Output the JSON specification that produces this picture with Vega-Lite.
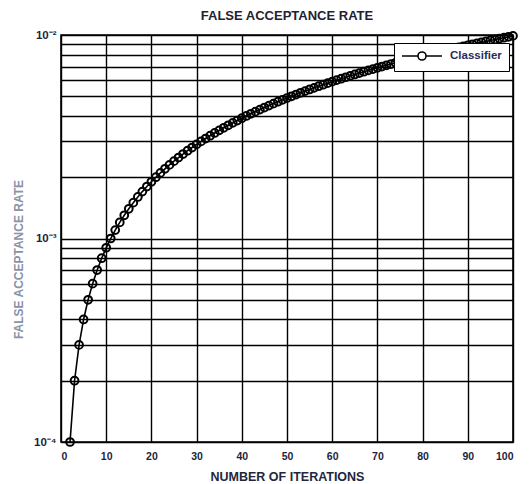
{
  "$schema": "https://vega.github.io/schema/vega-lite/v6.json",
  "width": 452,
  "height": 407,
  "autosize": {"type": "none"},
  "padding": {"left": 61, "top": 35, "right": 16, "bottom": 42},
  "background": "white",
  "title": {
    "text": "FALSE ACCEPTANCE RATE",
    "font": "Liberation Sans",
    "fontSize": 13,
    "fontWeight": "bold",
    "color": "#1f2233",
    "offset": 5
  },
  "data": {
    "values": [
      {"x": 2, "y": 0.0001}, {"x": 3, "y": 0.0002}, {"x": 4, "y": 0.0003}, {"x": 5, "y": 0.0004},
      {"x": 6, "y": 0.0005}, {"x": 7, "y": 0.0006}, {"x": 8, "y": 0.0007}, {"x": 9, "y": 0.0008},
      {"x": 10, "y": 0.0009}, {"x": 11, "y": 0.0010}, {"x": 12, "y": 0.0011}, {"x": 13, "y": 0.0012},
      {"x": 14, "y": 0.0013}, {"x": 15, "y": 0.0014}, {"x": 16, "y": 0.0015}, {"x": 17, "y": 0.0016},
      {"x": 18, "y": 0.0017}, {"x": 19, "y": 0.0018}, {"x": 20, "y": 0.0019}, {"x": 21, "y": 0.0020},
      {"x": 22, "y": 0.0021}, {"x": 23, "y": 0.0022}, {"x": 24, "y": 0.0023}, {"x": 25, "y": 0.0024},
      {"x": 26, "y": 0.0025}, {"x": 27, "y": 0.0026}, {"x": 28, "y": 0.0027}, {"x": 29, "y": 0.0028},
      {"x": 30, "y": 0.0029}, {"x": 31, "y": 0.0030}, {"x": 32, "y": 0.0031}, {"x": 33, "y": 0.0032},
      {"x": 34, "y": 0.0033}, {"x": 35, "y": 0.0034}, {"x": 36, "y": 0.0035}, {"x": 37, "y": 0.0036},
      {"x": 38, "y": 0.0037}, {"x": 39, "y": 0.0038}, {"x": 40, "y": 0.0039}, {"x": 41, "y": 0.0040},
      {"x": 42, "y": 0.0041}, {"x": 43, "y": 0.0042}, {"x": 44, "y": 0.0043}, {"x": 45, "y": 0.0044},
      {"x": 46, "y": 0.0045}, {"x": 47, "y": 0.0046}, {"x": 48, "y": 0.0047}, {"x": 49, "y": 0.0048},
      {"x": 50, "y": 0.0049}, {"x": 51, "y": 0.0050}, {"x": 52, "y": 0.0051}, {"x": 53, "y": 0.0052},
      {"x": 54, "y": 0.0053}, {"x": 55, "y": 0.0054}, {"x": 56, "y": 0.0055}, {"x": 57, "y": 0.0056},
      {"x": 58, "y": 0.0057}, {"x": 59, "y": 0.0058}, {"x": 60, "y": 0.0059}, {"x": 61, "y": 0.0060},
      {"x": 62, "y": 0.0061}, {"x": 63, "y": 0.0062}, {"x": 64, "y": 0.0063}, {"x": 65, "y": 0.0064},
      {"x": 66, "y": 0.0065}, {"x": 67, "y": 0.0066}, {"x": 68, "y": 0.0067}, {"x": 69, "y": 0.0068},
      {"x": 70, "y": 0.0069}, {"x": 71, "y": 0.0070}, {"x": 72, "y": 0.0071}, {"x": 73, "y": 0.0072},
      {"x": 74, "y": 0.0073}, {"x": 75, "y": 0.0074}, {"x": 76, "y": 0.0075}, {"x": 77, "y": 0.0076},
      {"x": 78, "y": 0.0077}, {"x": 79, "y": 0.0078}, {"x": 80, "y": 0.0079}, {"x": 81, "y": 0.0080},
      {"x": 82, "y": 0.0081}, {"x": 83, "y": 0.0082}, {"x": 84, "y": 0.0083}, {"x": 85, "y": 0.0084},
      {"x": 86, "y": 0.0085}, {"x": 87, "y": 0.0086}, {"x": 88, "y": 0.0087}, {"x": 89, "y": 0.0088},
      {"x": 90, "y": 0.0089}, {"x": 91, "y": 0.0090}, {"x": 92, "y": 0.0091}, {"x": 93, "y": 0.0092},
      {"x": 94, "y": 0.0093}, {"x": 95, "y": 0.0094}, {"x": 96, "y": 0.0095}, {"x": 97, "y": 0.0096},
      {"x": 98, "y": 0.0097}, {"x": 99, "y": 0.0098}, {"x": 100, "y": 0.0099}
    ]
  },
  "encoding": {
    "x": {
      "field": "x",
      "type": "quantitative",
      "scale": {"domain": [0, 100], "nice": false},
      "axis": {
        "title": "NUMBER OF ITERATIONS",
        "values": [0, 10, 20, 30, 40, 50, 60, 70, 80, 90, 100],
        "labelPadding": 9,
        "titlePadding": 9,
        "titleFontSize": 12.5
      }
    },
    "y": {
      "field": "y",
      "type": "quantitative",
      "scale": {"type": "log", "domain": [0.0001, 0.01], "nice": false},
      "axis": {
        "title": "FALSE ACCEPTANCE RATE",
        "values": [0.0001, 0.0002, 0.0003, 0.0004, 0.0005, 0.0006, 0.0007, 0.0008, 0.0009, 0.001, 0.002, 0.003, 0.004, 0.005, 0.006, 0.007, 0.008, 0.009, 0.01],
        "labelExpr": "datum.value == 0.0001 ? '10⁻⁴' : datum.value == 0.001 ? '10⁻³' : datum.value == 0.01 ? '10⁻²' : ''",
        "labelPadding": 5,
        "labelFontSize": 11.5,
        "titleColor": "#8a93a8",
        "titleFontSize": 12,
        "titleX": -43,
        "titleY": 224,
        "titleBaseline": "middle",
        "titleAngle": -90
      }
    },
    "color": {
      "datum": "Classifier",
      "type": "nominal",
      "scale": {"range": ["black"]},
      "legend": {
        "title": null,
        "orient": "none",
        "legendX": 333,
        "legendY": 8,
        "symbolType": "M-1,0H2.2M3.8,0H7M3.8,0A0.8,0.8,0,1,1,2.2,0A0.8,0.8,0,1,1,3.8,0",
        "symbolSize": 100,
        "symbolStrokeWidth": 1.6,
        "symbolStrokeColor": "black",
        "symbolFillColor": "white",
        "labelFont": "Liberation Sans",
        "labelFontSize": 11.5,
        "labelFontWeight": "bold",
        "labelColor": "#2a2d55",
        "labelOffset": 37,
        "padding": 7,
        "strokeColor": "black",
        "fillColor": "white"
      }
    }
  },
  "layer": [
    {"mark": {"type": "line", "strokeWidth": 1.6}},
    {"mark": {"type": "point", "shape": "circle", "filled": false, "size": 60, "strokeWidth": 2, "opacity": 1}}
  ],
  "config": {
    "view": {"stroke": "black", "strokeWidth": 1.6},
    "axis": {
      "grid": true,
      "gridColor": "black",
      "gridWidth": 1.4,
      "gridOpacity": 1,
      "domain": false,
      "ticks": false,
      "labelFont": "Liberation Sans",
      "labelFontSize": 10.5,
      "labelFontWeight": "bold",
      "labelColor": "#1c1f40",
      "titleFont": "Liberation Sans",
      "titleFontSize": 10.5,
      "titleFontWeight": "bold",
      "titleColor": "#23263d"
    }
  }
}
